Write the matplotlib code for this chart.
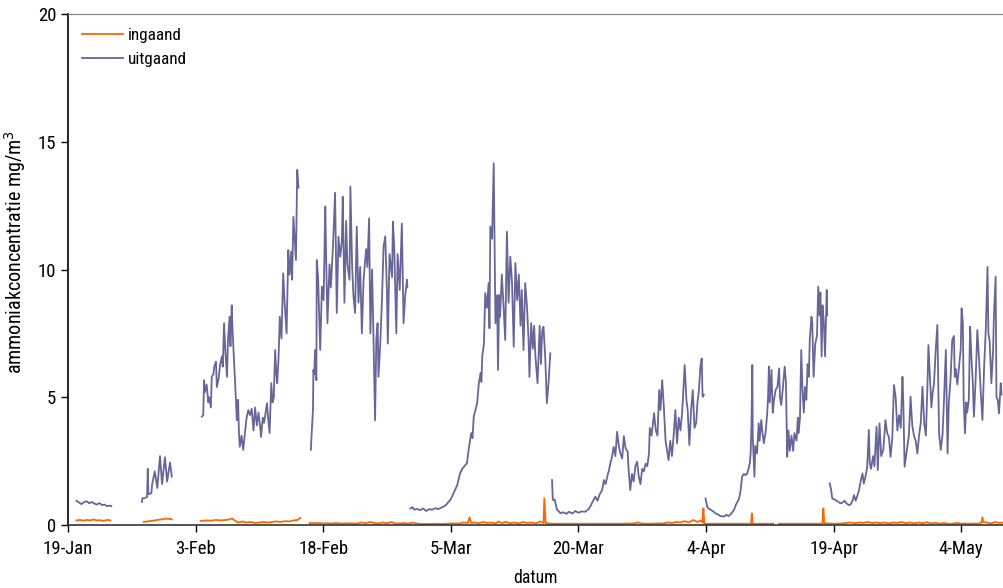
import numpy as np
import matplotlib.pyplot as plt
from matplotlib import font_manager

# dagen na 19-Jan, metingen per meetperiode (gaten tussen perioden)
uit_dag = [
    [1.0, 1.3, 1.6, 1.9, 2.2, 2.5, 2.8, 3.1, 3.4, 3.7, 4.0, 4.3, 4.6, 4.9, 5.1],
    [8.7, 8.75, 9.0, 9.3, 9.38, 9.45, 9.8, 9.9, 10.2, 10.5, 10.82, 11.06, 11.4, 11.65, 12.0, 12.2],
    [15.73, 15.9, 16.0, 16.1, 16.3, 16.5, 16.6, 16.8, 16.9, 17.1, 17.2, 17.4, 17.5, 17.7, 17.9,
     18.1, 18.2, 18.35, 18.5, 18.7, 18.8, 19.0, 19.1, 19.25, 19.35, 19.5, 19.65, 19.85, 20.0,
     20.1, 20.2, 20.4, 20.6, 20.8, 21.0, 21.2, 21.4, 21.6, 21.8, 22.0, 22.2, 22.4, 22.6, 22.7,
     22.9, 23.05, 23.4, 23.5, 23.7, 23.9, 24.05, 24.2, 24.35, 24.5, 24.6, 24.75, 24.9, 25.1,
     25.3, 25.45, 25.7, 25.9, 26.05, 26.25, 26.35, 26.5, 26.65, 26.8, 26.95, 27.1],
    [28.55, 28.65, 28.8, 28.85, 28.95, 29.05, 29.2, 29.25, 29.4, 29.55, 29.65, 29.85, 30.05,
     30.25, 30.35, 30.5, 30.75, 30.9, 31.15, 31.4, 31.6, 31.8, 32.0, 32.2, 32.3, 32.5, 32.7,
     32.85, 33.1, 33.2, 33.4, 33.55, 33.75, 33.95, 34.15, 34.35, 34.55, 34.75, 35.05, 35.2,
     35.4, 35.55, 35.75, 35.9, 36.1, 36.25, 36.4, 36.5, 36.7, 36.9, 37.1, 37.3, 37.5, 37.6,
     37.8, 38.1, 38.2, 38.35, 38.6, 38.75, 39.0, 39.25, 39.45, 39.65, 39.85, 39.9],
    [40.25, 40.5, 40.7, 41.05, 41.4, 41.75, 42.1, 42.5, 42.8, 43.2, 43.5, 43.9, 44.15, 44.5,
     44.7, 44.95, 45.2, 45.5, 45.75, 46.1, 46.35, 46.6, 46.9, 47.1, 47.4, 47.55, 47.7, 47.9,
     48.1, 48.3, 48.5, 48.6, 48.7, 48.9, 49.05, 49.25, 49.45, 49.55, 49.65, 49.85, 50.05,
     50.15, 50.25, 50.45, 50.55, 50.7, 50.8, 51.0, 51.2, 51.4, 51.6, 51.8, 52.0, 52.2, 52.4,
     52.6, 52.8, 53.0, 53.2, 53.35, 53.55, 53.75, 53.95, 54.15, 54.25, 54.45, 54.65, 54.8,
     54.95, 55.2, 55.45, 55.6, 55.75, 55.9, 56.1, 56.3, 56.5, 56.7],
    [56.9, 57.0, 57.2, 57.5, 57.65, 57.9, 58.2, 58.6, 58.9, 59.3, 59.65, 60.0, 60.35, 60.8,
     61.2, 61.4, 61.65, 62.0, 62.25, 62.5, 62.8, 63.0, 63.2, 63.4, 63.6, 63.75, 63.95, 64.15,
     64.35, 64.55, 64.75, 64.95, 65.15, 65.35, 65.55, 65.8, 65.9, 66.1, 66.3, 66.5, 66.7,
     66.9, 67.1, 67.3, 67.5, 67.7, 67.9, 68.1, 68.3, 68.4, 68.6, 68.9, 69.1, 69.3, 69.5,
     69.65, 69.85, 70.05, 70.25, 70.6, 70.8, 71.0, 71.2, 71.4, 71.6, 71.8, 72.0, 72.2, 72.5,
     72.7, 72.85, 73.05, 73.25, 73.45, 73.65, 73.85, 74.0, 74.15, 74.35, 74.5, 74.6, 74.75],
    [74.95, 75.15, 75.3, 75.55, 75.9, 76.1, 76.5, 76.7, 77.1, 77.4, 77.65, 77.9, 78.3, 78.5,
     78.9, 79.05, 79.25, 79.45, 79.65, 79.85, 80.0, 80.15, 80.25, 80.35, 80.45, 80.5, 80.7,
     80.8, 81.0, 81.2, 81.3, 81.5, 81.65, 81.8, 82.0, 82.2, 82.3, 82.4, 82.5, 82.7, 82.85,
     83.0, 83.2, 83.4, 83.6, 83.7, 83.85, 84.05, 84.25, 84.4, 84.55, 84.7, 84.85, 85.05,
     85.25, 85.4, 85.65, 85.8, 85.9, 86.05, 86.2, 86.35, 86.5, 86.65, 86.8, 86.95, 87.1,
     87.2, 87.4, 87.5, 87.65, 87.85, 88.05, 88.2, 88.35, 88.45, 88.6, 88.7, 88.85, 89.0,
     89.2, 89.25],
    [89.55, 89.7, 89.85, 90.1, 90.35, 90.6, 90.8, 91.05, 91.3, 91.5, 91.8, 92.0, 92.25, 92.4,
     92.6, 92.8, 93.0, 93.2, 93.4, 93.55, 93.75, 93.95, 94.15, 94.25, 94.4, 94.65, 94.8,
     95.05, 95.2, 95.4, 95.6, 95.85, 96.1, 96.3, 96.5, 96.7, 96.9, 97.1, 97.3, 97.5, 97.7,
     97.9, 98.1, 98.2, 98.35, 98.6, 98.85, 99.05, 99.25, 99.45, 99.65, 99.85, 100.05, 100.25,
     100.45, 100.65, 100.85, 101.05, 101.15, 101.35, 101.5, 101.65, 101.8, 102.0, 102.2,
     102.4, 102.6, 102.8, 102.95, 103.2, 103.4, 103.55, 103.75, 103.95, 104.15, 104.25,
     104.35, 104.55, 104.75, 104.95, 105.05, 105.2, 105.3, 105.45, 105.6, 105.7, 105.9,
     106.05, 106.2, 106.35, 106.5, 106.7, 106.9, 107.1, 107.3, 107.5, 107.7, 107.9, 108.1,
     108.2, 108.35, 108.55, 108.75, 108.85, 109.05, 109.15, 109.3, 109.45, 109.65, 109.75],
]
uitgaand = [
    [0.95, 0.88, 0.82, 0.9, 0.93, 0.85, 0.9, 0.84, 0.8, 0.86, 0.78, 0.8, 0.74, 0.76, 0.74],
    [0.9, 1.05, 1.05, 1.1, 2.2, 1.2, 1.25, 1.6, 2.1, 1.45, 2.7, 1.6, 2.65, 1.7, 2.45, 1.9],
    [4.24, 4.3, 5.67, 5.2, 5.5, 4.8, 5.0, 4.6, 5.8, 5.9, 6.2, 6.4, 5.4, 5.7, 6.3, 6.6, 6.2,
     7.9, 6.8, 5.8, 7.2, 8.15, 7.0, 8.6, 7.6, 6.6, 5.55, 4.1, 4.9, 3.6, 3.06, 3.5, 2.94, 3.6,
     4.2, 4.5, 4.3, 4.55, 3.7, 4.6, 3.9, 4.4, 3.8, 3.45, 4.2, 4.0, 4.77, 4.3, 3.6, 5.55, 4.8,
     5.0, 6.85, 5.9, 5.55, 6.5, 8.15, 7.3, 9.85, 8.8, 7.5, 10.76, 9.8, 10.7, 9.6, 12.06,
     11.2, 10.37, 13.9, 13.2],
    [2.94, 3.6, 4.5, 6.07, 5.9, 6.85, 5.67, 10.37, 9.7, 7.9, 6.85, 9.33, 8.8, 12.46, 10.5,
     7.9, 10.2, 9.3, 10.9, 13.0, 8.3, 11.28, 10.5, 11.1, 12.85, 8.7, 11.9, 10.2, 9.6, 13.24,
     10.2, 9.0, 8.3, 11.68, 8.7, 10.1, 7.5, 9.6, 10.8, 10.1, 12.0, 7.5, 10.0, 7.6, 4.1, 7.3,
     7.9, 5.8, 7.0, 8.7, 10.9, 11.3, 9.1, 7.1, 10.6, 9.7, 11.87, 10.9, 7.5, 10.6, 9.2, 11.8,
     7.9, 9.0, 9.6, 9.3],
    [0.65, 0.7, 0.6, 0.63, 0.58, 0.65, 0.55, 0.62, 0.6, 0.66, 0.62, 0.68, 0.72, 0.8, 0.9,
     0.98, 1.15, 1.37, 1.55, 2.03, 2.2, 2.3, 2.42, 2.94, 3.6, 3.4, 4.24, 4.5, 4.77, 5.55,
     5.95, 5.6, 6.6, 7.1, 9.08, 8.5, 9.47, 7.7, 11.68, 11.2, 14.15, 10.9, 7.9, 9.0, 6.07,
     9.0, 8.15, 9.8, 8.6, 7.24, 11.48, 8.7, 10.5, 9.5, 6.98, 10.25, 8.8, 9.8, 7.8, 9.2,
     6.85, 9.47, 8.6, 7.2, 5.8, 7.9, 6.9, 7.8, 6.6, 5.55, 7.8, 6.3, 7.6, 7.76, 6.6, 4.77,
     5.6, 6.72],
    [1.76, 0.98, 1.0, 0.59, 0.55, 0.46, 0.5, 0.44, 0.52, 0.45, 0.55, 0.48, 0.53, 0.52, 0.62,
     0.72, 0.9, 1.11, 0.95, 1.2, 1.37, 1.76, 1.6, 1.9, 2.15, 2.4, 2.67, 3.06, 2.7, 3.65,
     3.1, 2.8, 2.6, 3.48, 3.0, 2.87, 2.2, 1.37, 2.0, 1.7, 2.3, 2.48, 1.9, 1.6, 2.2, 2.1, 2.4,
     2.3, 2.8, 3.8, 3.5, 4.38, 3.7, 3.5, 5.28, 4.5, 5.67, 4.6, 3.3, 2.54, 3.3, 2.7, 3.5, 4.5,
     3.2, 4.2, 3.7, 4.4, 6.26, 4.9, 4.5, 3.13, 4.5, 5.28, 3.8, 4.0, 4.8, 5.2, 6.2, 6.52,
     5.02, 5.1],
    [1.04, 0.72, 0.65, 0.6, 0.52, 0.46, 0.4, 0.35, 0.33, 0.4, 0.35, 0.42, 0.59, 0.78, 1.04,
     1.3, 1.89, 2.0, 1.95, 2.02, 2.2, 2.41, 2.8, 3.91, 6.26, 3.46, 1.89, 3.1, 2.8, 3.98, 3.3,
     4.11, 3.6, 3.2, 3.6, 4.37, 5.0, 6.2, 4.8, 6.07, 4.4, 4.9, 5.3, 5.4, 6.13, 5.0, 4.7, 5.4,
     6.2, 5.6, 2.67, 3.7, 2.9, 3.5, 2.9, 3.6, 3.3, 4.2, 3.6, 4.2, 6.85, 5.3, 4.4, 5.4, 4.9,
     6.3, 5.8, 7.24, 8.15, 7.9, 5.8, 7.1, 7.4, 9.33, 8.2, 9.1, 6.6, 8.6, 8.0, 6.6, 9.2, 8.2],
    [1.63, 1.4, 1.04, 1.0, 0.95, 0.9, 0.85, 0.88, 0.95, 0.85, 0.78, 0.8, 0.97, 1.17, 0.95,
     1.15, 1.37, 1.75, 2.02, 1.62, 1.9, 2.25, 3.72, 2.45, 2.2, 2.7, 2.3, 3.85, 2.15, 3.98,
     2.7, 2.95, 4.11, 3.6, 3.45, 2.67, 3.4, 5.48, 5.0, 3.7, 4.3, 3.8, 5.8, 4.8, 2.28, 2.9,
     3.5, 5.02, 3.9, 3.5, 3.3, 2.8, 3.5, 4.0, 5.41, 4.0, 3.5, 5.6, 7.04, 5.6, 4.6, 5.2, 5.5,
     6.8, 7.83, 3.6, 2.94, 3.5, 4.6, 6.85, 2.8, 4.8, 5.7, 7.24, 7.4, 5.8, 6.1, 5.5, 6.2, 6.9,
     8.48, 7.9, 4.8, 3.59, 4.8, 4.4, 4.9, 7.76, 6.6, 5.7, 4.24, 5.7, 7.63, 6.5, 5.2, 4.11,
     6.2, 7.7, 10.1, 7.5, 7.2, 5.55, 6.8, 8.2, 9.72, 5.0, 4.9, 4.37, 5.55, 5.1],
]

in_dag = [
    [1.0, 1.4, 1.8, 2.2, 2.6, 3.0, 3.4, 3.8, 4.2, 4.6, 5.0],
    [8.9, 9.5, 10.0, 10.5, 11.0, 11.5, 12.0, 12.2],
    [15.6, 16.2, 16.8, 17.4, 18.0, 18.6, 19.0, 19.3, 19.6, 20.0, 20.5, 21.0, 21.5, 22.0,
     22.5, 23.0, 23.5, 24.0, 24.5, 25.0, 25.5, 26.0, 26.5, 27.0, 27.3],
    [28.4, 29.0, 29.5, 30.0, 30.5, 31.0, 31.5, 32.0, 32.5, 33.0, 33.5, 34.0, 34.5, 35.0,
     35.5, 36.0, 36.5, 37.0, 37.5, 38.0, 38.5, 39.0, 39.5, 40.0, 40.5, 41.0, 41.5, 42.0,
     43.0, 44.0, 45.0, 46.0, 46.5, 47.0, 47.2, 47.4, 47.8, 48.3, 48.8, 49.3, 49.8, 50.3,
     50.6, 51.0, 51.5, 52.0, 52.5, 53.0, 53.5, 54.0, 54.5, 55.0, 55.5, 55.9, 56.0, 56.15,
     56.5, 57.0, 58.0, 59.0, 60.0, 61.0, 62.0, 63.0, 64.0, 65.0, 66.0, 66.5, 67.0, 67.5,
     68.0, 69.0, 70.0, 70.5, 71.0, 71.5, 72.0, 72.5, 73.0, 73.5, 74.0, 74.4, 74.6, 74.7,
     74.8, 75.0, 76.0, 77.0, 78.0, 79.0, 80.0, 80.3, 80.4, 80.5, 81.0, 82.0, 82.9],
    [83.6, 84.5, 85.5, 86.5, 87.5, 88.5, 88.7, 88.8, 88.9, 89.5, 90.0, 91.0, 92.0, 92.5,
     93.0, 93.5, 94.0, 94.5, 95.0, 95.5, 96.0, 96.5, 97.0, 97.5, 98.0, 98.5, 99.0, 99.5,
     100.0, 100.5, 101.0, 101.5, 102.0, 102.5, 103.0, 103.5, 104.0, 104.5, 105.0, 105.5,
     106.0, 106.5, 107.0, 107.4, 107.5, 107.6, 108.0, 108.5, 109.0, 109.5, 110.0],
]
ingaand = [
    [0.18, 0.2, 0.17, 0.2, 0.18, 0.22, 0.18, 0.19, 0.16, 0.2, 0.18],
    [0.12, 0.15, 0.17, 0.2, 0.22, 0.25, 0.24, 0.22],
    [0.16, 0.18, 0.17, 0.2, 0.18, 0.2, 0.22, 0.26, 0.18, 0.1, 0.14, 0.1, 0.12, 0.08, 0.1,
     0.12, 0.1, 0.12, 0.14, 0.12, 0.15, 0.14, 0.18, 0.2, 0.28],
    [0.08, 0.07, 0.08, 0.06, 0.07, 0.06, 0.08, 0.06, 0.06, 0.07, 0.06, 0.06, 0.1, 0.07,
     0.12, 0.08, 0.06, 0.1, 0.07, 0.12, 0.06, 0.06, 0.08, 0.05, 0.1, 0.06, 0.04, 0.04,
     0.05, 0.04, 0.06, 0.06, 0.1, 0.08, 0.3, 0.08, 0.1, 0.07, 0.12, 0.08, 0.1, 0.06,
     0.14, 0.08, 0.12, 0.07, 0.1, 0.06, 0.12, 0.08, 0.1, 0.06, 0.14, 0.08, 1.05, 0.08,
     0.06, 0.05, 0.05, 0.05, 0.05, 0.05, 0.05, 0.05, 0.05, 0.05, 0.06, 0.06, 0.1, 0.06,
     0.05, 0.06, 0.06, 0.1, 0.08, 0.12, 0.1, 0.15, 0.1, 0.2, 0.12, 0.18, 0.1, 0.65,
     0.08, 0.05, 0.05, 0.05, 0.05, 0.05, 0.05, 0.05, 0.46, 0.05, 0.05, 0.05, 0.05],
    [0.05, 0.05, 0.05, 0.05, 0.05, 0.05, 0.07, 0.65, 0.07, 0.06, 0.05, 0.06, 0.1, 0.07,
     0.1, 0.08, 0.12, 0.08, 0.1, 0.07, 0.1, 0.06, 0.1, 0.08, 0.12, 0.07, 0.1, 0.06, 0.1,
     0.07, 0.11, 0.06, 0.09, 0.05, 0.08, 0.05, 0.05, 0.08, 0.05, 0.06, 0.05, 0.06, 0.05,
     0.1, 0.3, 0.12, 0.1, 0.06, 0.12, 0.08, 0.1],
]

tick_dagen = [0, 15, 30, 45, 60, 75, 90, 105]
tick_labels = ['19-Jan', '3-Feb', '18-Feb', '5-Mar', '20-Mar', '4-Apr', '19-Apr', '4-May']


def aaneen(dagen, waarden):
    # perioden achter elkaar, met NaN ertussen zodat de lijn onderbreekt
    x, y = [], []
    for d, w in zip(dagen, waarden):
        x += list(d) + [np.nan]
        y += list(w) + [np.nan]
    return np.array(x), np.array(y)


namen = {f.name for f in font_manager.fontManager.ttflist}
smal = [n for n in ['Liberation Sans Narrow', 'Arial Narrow', 'Roboto Condensed',
                    'Open Sans Condensed'] if n in namen]
plt.rcParams['font.family'] = smal + ['DejaVu Sans']
plt.rcParams['font.stretch'] = 'condensed'
plt.rcParams['font.size'] = 12.3

fig = plt.figure(figsize=(10.04, 5.88), dpi=100)
ax = fig.add_axes([0.0677, 0.1071, 0.932, 0.8691])

x_in, y_in = aaneen(in_dag, ingaand)
x_uit, y_uit = aaneen(uit_dag, uitgaand)
ax.plot(x_in, y_in, color='#ff6600', linewidth=1.3, label='ingaand')
ax.plot(x_uit, y_uit, color='#666699', linewidth=1.3, label='uitgaand')

ax.set_xlim(0, 110)
ax.set_ylim(0, 20)
ax.set_xticks(tick_dagen)
ax.set_xticklabels(tick_labels)
ax.set_yticks([0, 5, 10, 15, 20])
ax.tick_params(direction='out', length=5, width=1, colors='black', labelsize=13.5)
ax.tick_params(axis='x', pad=6)
ax.set_xlabel('datum', fontsize=12.8, labelpad=8)
ax.set_ylabel('ammoniakconcentratie mg/m$^3$', fontsize=14.5)
ax.yaxis.set_label_coords(-0.043, 0.535)

ax.spines['right'].set_visible(False)
ax.spines['top'].set_color('#808080')
ax.spines['left'].set_linewidth(1.2)
ax.spines['bottom'].set_linewidth(1.2)
ax.spines['bottom'].set_color('#333333')

ax.legend(loc='upper left', frameon=False, handlelength=2.4, handletextpad=0.3,
          labelspacing=0.55, borderaxespad=0.4, bbox_to_anchor=(0.0, 1.0))

fig.savefig('out.png', dpi=100)
